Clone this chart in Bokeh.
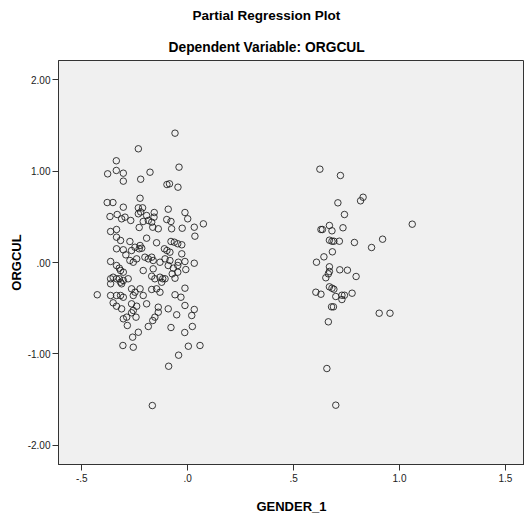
from bokeh.plotting import figure
from bokeh.models import Range1d, FixedTicker, Title
from bokeh.embed import file_html
from bokeh.resources import INLINE

# Residuals (x: GENDER_1, y: ORGCUL)
gender_left = [
    -0.060, -0.233, -0.337, -0.041, -0.378, -0.337, -0.304, -0.178, -0.222, -0.304,
    -0.098, -0.086, -0.046, -0.225, -0.380, -0.353, -0.304, -0.233, -0.213, -0.092,
    -0.158, -0.013, -0.333, -0.367, -0.233, -0.222, -0.194, -0.312, -0.296, -0.269,
    -0.210, -0.186, -0.170, -0.159, -0.099, -0.079, -0.076, 0.000, -0.026, 0.031,
    0.034, 0.074, -0.364, -0.336, -0.336, -0.317, -0.229, -0.165, -0.139, -0.194,
    -0.147, -0.273, -0.336, -0.304, -0.292, -0.265, -0.249, -0.225, -0.229, -0.217,
    -0.110, -0.098, -0.084, -0.079, -0.063, -0.047, -0.028, -0.028, -0.273, -0.257,
    -0.241, -0.202, -0.186, -0.170, -0.163, -0.364, -0.336, -0.323, -0.317, -0.304,
    -0.131, -0.107, -0.084, -0.044, -0.013, 0.031, -0.092, -0.068, -0.047, -0.073,
    -0.047, -0.060, -0.009, -0.107, -0.210, -0.163, -0.364, -0.352, -0.336, -0.323,
    -0.317, -0.312, -0.304, -0.281, -0.170, -0.155, -0.131, -0.118, -0.123, -0.427,
    -0.364, -0.336, -0.317, -0.304, -0.265, -0.257, -0.249, -0.225, -0.210, -0.170,
    -0.147, -0.131, -0.013, -0.060, -0.032, -0.013, 0.031, -0.092, -0.052, -0.352,
    -0.336, -0.312, -0.265, -0.241, -0.257, -0.265, -0.194, -0.139, -0.364, -0.304,
    -0.288, -0.285, -0.260, -0.233, -0.257, -0.306, -0.244, -0.186, -0.165, -0.155,
    -0.139, -0.079, -0.014, 0.022, 0.019, 0.003, 0.058, -0.043, -0.090, -0.167,
]
orgcul_left = [
    1.415, 1.244, 1.113, 1.043, 0.970, 1.007, 0.977, 0.988, 0.911, 0.890,
    0.853, 0.861, 0.824, 0.703, 0.656, 0.656, 0.605, 0.598, 0.598, 0.583,
    0.547, 0.547, 0.525, 0.503, 0.533, 0.553, 0.514, 0.478, 0.496, 0.460,
    0.449, 0.460, 0.441, 0.496, 0.470, 0.449, 0.369, 0.478, 0.375, 0.386,
    0.288, 0.423, 0.339, 0.361, 0.277, 0.241, 0.383, 0.386, 0.369, 0.266,
    0.216, 0.230, 0.150, 0.139, 0.084, 0.131, 0.167, 0.186, 0.150, 0.156,
    0.150, 0.131, 0.113, 0.230, 0.222, 0.205, 0.194, 0.095, 0.022, 0.003,
    0.040, 0.058, 0.040, 0.058, 0.022, 0.011, -0.033, -0.062, -0.088, -0.106,
    0.003, 0.040, 0.022, 0.003, 0.011, -0.008, -0.033, -0.062, -0.033, -0.124,
    -0.106, -0.172, -0.077, -0.178, -0.088, -0.069, -0.178, -0.161, -0.178, -0.178,
    -0.216, -0.233, -0.197, -0.178, -0.150, -0.178, -0.161, -0.178, -0.216, -0.353,
    -0.361, -0.361, -0.361, -0.380, -0.288, -0.361, -0.325, -0.288, -0.361, -0.295,
    -0.288, -0.325, -0.281, -0.353, -0.380, -0.470, -0.514, -0.507, -0.572, -0.441,
    -0.478, -0.507, -0.452, -0.478, -0.525, -0.550, -0.452, -0.489, -0.233, -0.616,
    -0.598, -0.689, -0.817, -0.763, -0.927, -0.908, -0.598, -0.700, -0.635, -0.598,
    -0.544, -0.711, -0.766, -0.700, -0.580, -0.916, -0.908, -1.014, -1.135, -1.565,
]
gender_right = [
    0.624, 0.721, 0.709, 0.816, 0.828, 0.740, 1.060, 0.629, 0.636, 0.669,
    0.681, 0.733, 0.669, 0.681, 0.690, 0.716, 0.787, 0.920, 0.868, 0.683,
    0.643, 0.608, 0.669, 0.669, 0.664, 0.652, 0.718, 0.754, 0.795, 0.605,
    0.629, 0.669, 0.681, 0.690, 0.699, 0.728, 0.728, 0.740, 0.776, 0.679,
    0.688, 0.904, 0.955, 0.664, 0.657, 0.699,
]
orgcul_right = [
    1.021, 0.952, 0.653, 0.675, 0.714, 0.525, 0.419, 0.361, 0.361, 0.405,
    0.347, 0.380, 0.244, 0.233, 0.233, 0.233, 0.219, 0.255, 0.164, 0.117,
    0.062, 0.003, -0.047, -0.098, -0.124, -0.167, -0.080, -0.084, -0.153, -0.325,
    -0.347, -0.266, -0.281, -0.292, -0.372, -0.358, -0.405, -0.358, -0.336, -0.485,
    -0.485, -0.555, -0.555, -0.649, -1.160, -1.561,
]

x_ticks = [-0.5, 0, 0.5, 1, 1.5]
x_tick_labels = ["-.5", ".0", ".5", "1.0", "1.5"]
y_ticks = [-2, -1, 0, 1, 2]
y_tick_labels = ["-2.00", "-1.00", ".00", "1.00", "2.00"]

main_title = "Partial Regression Plot"
sub_title = "Dependent Variable: ORGCUL"

FONT = "Liberation Sans"

p = figure(width=524, height=521, output_backend="svg", toolbar_location=None,
           x_range=Range1d(-0.61, 1.59), y_range=Range1d(-2.21, 2.21),
           min_border_left=58, min_border_right=0, min_border_top=60,
           min_border_bottom=57)

p.background_fill_color = "#F0F0F0"
p.border_fill_color = "white"
p.outline_line_color = "#333333"
p.outline_line_width = 1
p.xgrid.visible = False
p.ygrid.visible = False

sub = Title(text=sub_title, align="left", offset=110, vertical_align="bottom",
            text_font=FONT, text_font_size="13.8px", text_font_style="bold",
            text_color="black", standoff=11)
main = Title(text=main_title, align="left", offset=134, vertical_align="top",
             text_font=FONT, text_font_size="13.5px", text_font_style="bold",
             text_color="black", standoff=15)
p.add_layout(sub, "above")
p.add_layout(main, "above")

for ax, ticks, labels, name in ((p.xaxis[0], x_ticks, x_tick_labels, "GENDER_1"),
                                (p.yaxis[0], y_ticks, y_tick_labels, "ORGCUL")):
    ax.ticker = FixedTicker(ticks=ticks)
    ax.major_label_overrides = dict(zip(ticks, labels))
    ax.axis_label = name
    ax.axis_label_text_font = FONT
    ax.axis_label_text_font_size = "13px"
    ax.axis_label_text_font_style = "bold"
    ax.axis_label_text_color = "black"
    ax.major_label_text_font = FONT
    ax.major_label_text_font_size = "10px"
    ax.major_label_text_color = "#222222"
    ax.minor_tick_line_color = None
    ax.major_tick_in = 0
    ax.major_tick_out = 6
    ax.major_tick_line_color = "#333333"
    ax.axis_line_color = "#333333"

p.xaxis[0].major_label_standoff = 3
p.yaxis[0].major_label_standoff = 2
p.xaxis[0].axis_label_standoff = 14
p.yaxis[0].axis_label_standoff = 1

p.scatter(gender_left + gender_right, orgcul_left + orgcul_right,
          marker="circle", size=6.5, fill_color=None,
          line_color="#1a1a1a", line_width=1, line_alpha=0.85)

open("out.html", "w").write(file_html(p, INLINE))
